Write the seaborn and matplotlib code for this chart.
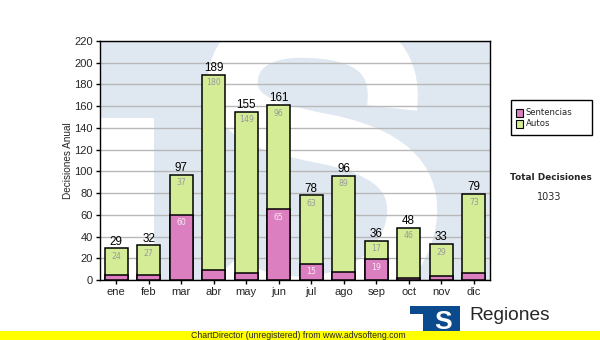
import matplotlib
matplotlib.use("Agg")
import matplotlib.pyplot as plt
import seaborn as sns
import pandas as pd
from matplotlib.patches import Rectangle, PathPatch
from matplotlib.path import Path

months = ["ene", "feb", "mar", "abr", "may", "jun", "jul", "ago", "sep", "oct", "nov", "dic"]
sentencias = [5, 5, 60, 9, 6, 65, 15, 7, 19, 2, 4, 6]
autos = [24, 27, 37, 180, 149, 96, 63, 89, 17, 46, 29, 73]
yticks = list(range(0, 221, 20))
legend_labels = ["Sentencias", "Autos"]
total_title = "Total Decisiones"

totals = [s + a for s, a in zip(sentencias, autos)]
grand_total = sum(totals)
df = pd.DataFrame({"mes": months, "sentencias": sentencias, "autos": autos, "total": totals})

sns.set_style("white")
plt.rcParams["font.family"] = ["Liberation Sans", "DejaVu Sans"]

W, H = 600, 340
fig = plt.figure(figsize=(6, 3.4), dpi=100)
ax = fig.add_axes([100 / W, 1 - 280 / H, 390 / W, 239 / H])

GREEN = "#d4ec96"
PINK = "#dc7fc0"
LBLUE = "#dfe8f1"

def fpx(x, y):
    return (x / W, 1 - y / H)

# watermark background
ax.set_facecolor(LBLUE)
wm = Rectangle(fpx(101, 280), 53 / W, 162 / H, transform=fig.transFigure,
               facecolor="white", edgecolor="none", zorder=0.1)
ax.add_patch(wm)
wm.set_clip_path(ax.patch)
pts = [(392, 108), (398, 60), (370, 35), (310, 33), (255, 30), (230, 55), (233, 88),
       (238, 122), (280, 130), (330, 140), (385, 152), (415, 175), (412, 215),
       (408, 262), (370, 292), (320, 300), (270, 306), (240, 292), (222, 272)]
codes = [Path.MOVETO] + [Path.CURVE4] * (len(pts) - 1)
spath = Path([fpx(x, y) for x, y in pts], codes)
sp = PathPatch(spath, transform=fig.transFigure, facecolor="none", edgecolor="white",
               lw=36, capstyle="butt", zorder=0.2)
ax.add_patch(sp)
sp.set_clip_path(ax.patch)

# bars
sns.barplot(data=df, x="mes", y="total", color=GREEN, saturation=1, width=0.71,
            edgecolor="black", linewidth=1.1, ax=ax, zorder=3)
sns.barplot(data=df, x="mes", y="sentencias", color=PINK, saturation=1, width=0.71,
            edgecolor="black", linewidth=1.1, ax=ax, zorder=4)

for i, (s, a, t) in enumerate(zip(sentencias, autos, totals)):
    ax.annotate(str(t), (i, t), xytext=(0, 0.5), textcoords="offset points",
                ha="center", va="bottom", fontsize=8.4, color="black", zorder=6)
    ax.annotate(str(a), (i, t), xytext=(0, -2.5), textcoords="offset points",
                ha="center", va="top", fontsize=5.6, color="#9a9a9a",
                family="DejaVu Sans", zorder=6)
    if s >= 10:
        ax.annotate(str(s), (i, s), xytext=(0, -2.5), textcoords="offset points",
                    ha="center", va="top", fontsize=5.6, color="#f6e8f2",
                    family="DejaVu Sans", zorder=6)

ax.set_ylim(0, 220)
ax.set_xlim(-0.5, len(months) - 0.5)
ax.set_yticks(yticks)
ax.set_yticklabels([str(v) for v in yticks])
ax.yaxis.grid(True, color="#b8b8b8", lw=1, zorder=0.5)
ax.set_axisbelow(True)
ax.tick_params(axis="both", direction="out", length=3, width=1, color="black",
               labelsize=8, pad=2, left=True, bottom=True)
ax.set_xlabel("")
ax.set_ylabel("Decisiones Anual", fontsize=7.2, labelpad=1)
for sp_ in ax.spines.values():
    sp_.set_visible(True)
    sp_.set_color("black")
    sp_.set_linewidth(1)

# legend box
lx, ly, lw_, lh = 511, 100, 81, 35
fig.add_artist(Rectangle(fpx(lx, ly + lh), lw_ / W, lh / H, transform=fig.transFigure,
                         facecolor="white", edgecolor="black", lw=1))
for k, (lab, col) in enumerate(zip(legend_labels, [PINK, GREEN])):
    yy = 113 + k * 11
    fig.add_artist(Rectangle(fpx(516, yy + 3.5), 7 / W, 7 / H, transform=fig.transFigure,
                             facecolor=col, edgecolor="black", lw=0.8))
    fig.text(*fpx(526, yy), lab, fontsize=6.1, family="DejaVu Sans", va="center", ha="left")

fig.text(*fpx(551, 178), total_title, fontsize=6.4, family="DejaVu Sans",
         weight="bold", ha="center", va="center")
fig.text(*fpx(549, 197), str(grand_total), fontsize=7, family="DejaVu Sans",
         ha="center", va="center")

# logo
LOGO = "#0c4a8e"
fig.add_artist(Rectangle(fpx(410, 334), 50 / W, 28 / H, transform=fig.transFigure,
                         facecolor=LOGO, edgecolor="none", zorder=2))
fig.add_artist(Rectangle(fpx(410, 334), 13 / W, 20 / H, transform=fig.transFigure,
                         facecolor="white", edgecolor="none", zorder=3))
fig.text(*fpx(443, 322), "S", fontsize=19, weight="bold", color="white",
         ha="center", va="center", zorder=4)
fig.text(*fpx(469, 316), "Regiones", fontsize=13.8, ha="left", va="center", zorder=4)
fig.text(*fpx(468, 336), "Tribunal Supremo de Justicia", fontsize=7, ha="left",
         va="center", zorder=4)

# yellow band
fig.add_artist(Rectangle((0, 0), 1, 9.5 / H, transform=fig.transFigure,
                         facecolor="#ffff00", edgecolor="none", zorder=10))
fig.text(*fpx(191, 335), "ChartDirector (unregistered) from www.advsofteng.com",
         fontsize=6.3, ha="left", va="center", zorder=11)

fig.savefig("out.png", dpi=100)
